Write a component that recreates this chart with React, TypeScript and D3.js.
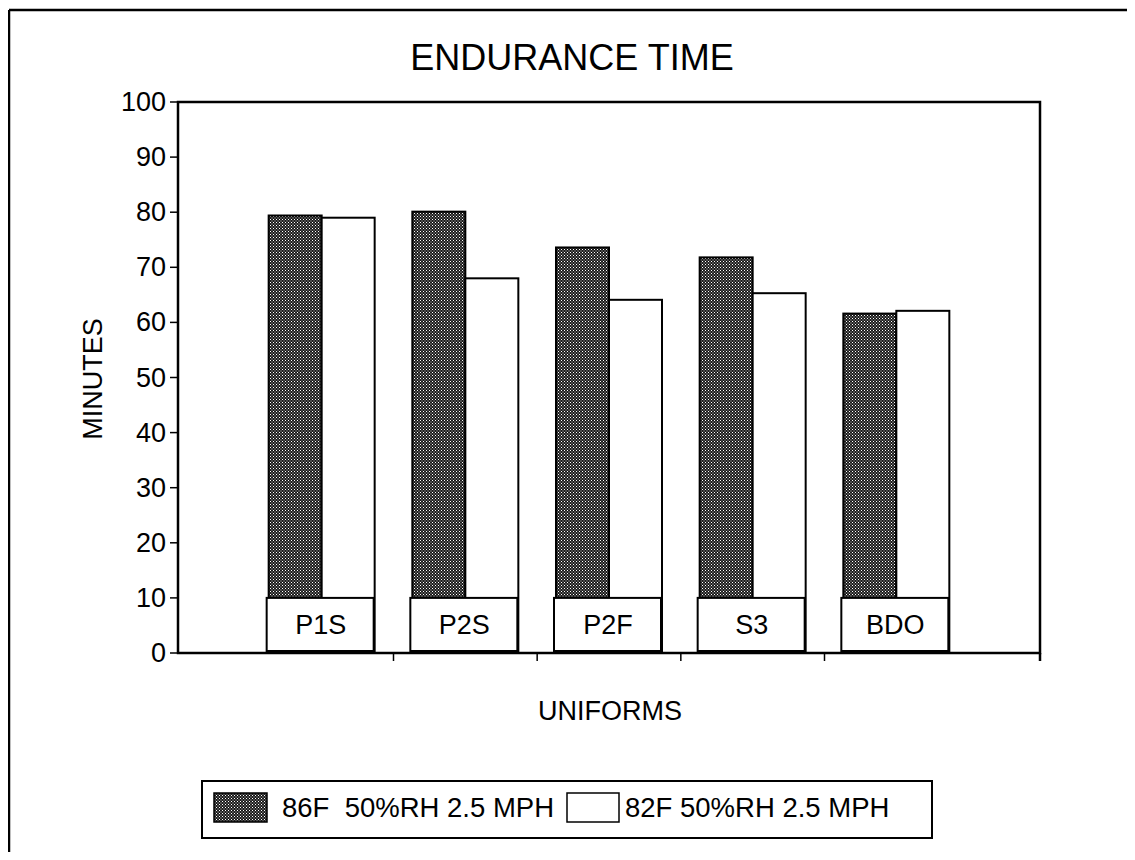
import React from "react";
import * as d3 from "d3";

const categories = ["P1S", "P2S", "P2F", "S3", "BDO"];
const series86 = [79.4, 80.1, 73.6, 71.8, 61.6];
const series82 = [79.0, 68.0, 64.1, 65.3, 62.1];
const seriesNames = ["86F  50%RH 2.5 MPH", "82F 50%RH 2.5 MPH"];
const yTicks = [0, 10, 20, 30, 40, 50, 60, 70, 80, 90, 100];
const labelBoxLevel = 10;

const W = 1135;
const H = 860;
const M = { left: 178, right: 1040, top: 102, bottom: 653 };
const FONT = "'Liberation Sans', Arial, Helvetica, sans-serif";

export default function App() {
  const x = d3
    .scaleBand<string>()
    .domain(categories)
    .range([M.left, M.right])
    .paddingInner(0)
    .paddingOuter(0.5);
  const y = d3.scaleLinear().domain([0, 100]).range([M.bottom, M.top]);
  const step = x.step();
  const barW = 53;
  const boundaries = categories.slice(1).map((c) => (x(c) as number));

  return (
    <div style={{ margin: -8 }}>
      <svg width={W} height={H} style={{ display: "block", background: "#fff" }} fontFamily={FONT}>
        <defs>
          <pattern id="hatch" width="3" height="3" patternUnits="userSpaceOnUse">
            <rect width="3" height="3" fill="#1a1a1a" />
            <rect x="0" y="0" width="1" height="1" fill="#fff" />
            <rect x="1.5" y="1.5" width="1" height="1" fill="#ddd" />
          </pattern>
        </defs>
        {/* outer frame */}
        <line x1={9} y1={10} x2={1133} y2={10} stroke="#000" strokeWidth={2.5} />
        <line x1={9} y1={10} x2={9} y2={H} stroke="#000" strokeWidth={2.5} />
        <line x1={1131} y1={10} x2={1131} y2={H} stroke="#000" strokeWidth={1} />

        <text x={572} y={70} fontSize={36} textAnchor="middle">ENDURANCE TIME</text>

        {/* bars */}
        {categories.map((c, i) => {
          const cx = (x(c) as number) + step / 2;
          return (
            <g key={c}>
              <rect x={cx - barW} y={y(series86[i])} width={barW} height={M.bottom - y(series86[i])}
                fill="url(#hatch)" stroke="#000" strokeWidth={2} />
              <rect x={cx} y={y(series82[i])} width={barW} height={M.bottom - y(series82[i])}
                fill="#fff" stroke="#000" strokeWidth={2} />
              <rect x={cx - barW - 2} y={y(labelBoxLevel)} width={barW * 2 + 1} height={y(0) - y(labelBoxLevel) - 2}
                fill="#fff" stroke="#000" strokeWidth={2} />
              <text x={cx - 1} y={(y(labelBoxLevel) + y(0)) / 2} fontSize={27} textAnchor="middle" dominantBaseline="central">{c}</text>
            </g>
          );
        })}

        {/* plot frame */}
        <rect x={M.left} y={M.top} width={M.right - M.left} height={M.bottom - M.top} fill="none" stroke="#000" strokeWidth={2.5} />

        {/* y ticks */}
        {yTicks.map((t) => (
          <g key={t}>
            <line x1={M.left - 8} x2={M.left} y1={y(t)} y2={y(t)} stroke="#000" strokeWidth={1.5} />
            <text x={166} y={y(t)} fontSize={27} textAnchor="end" dominantBaseline="central">{t}</text>
          </g>
        ))}
        {/* x ticks */}
        {boundaries.map((b, i) => (
          <line key={i} x1={b} x2={b} y1={M.bottom} y2={M.bottom + 8} stroke="#000" strokeWidth={1.5} />
        ))}
        <line x1={M.right} x2={M.right} y1={M.bottom} y2={M.bottom + 8} stroke="#000" strokeWidth={2.5} />

        <text x={610} y={720} fontSize={27} textAnchor="middle">UNIFORMS</text>
        <text transform={`translate(102,379) rotate(-90)`} fontSize={27} textAnchor="middle">MINUTES</text>

        {/* legend */}
        <rect x={202} y={781} width={730} height={57} fill="#fff" stroke="#000" strokeWidth={2} />
        <rect x={214} y={793} width={53} height={29} fill="url(#hatch)" stroke="#000" strokeWidth={1.5} />
        <text x={282} y={817} fontSize={27.5} style={{ whiteSpace: "pre" }}>{seriesNames[0]}</text>
        <rect x={567} y={793} width={52} height={29} fill="#fff" stroke="#000" strokeWidth={1.5} />
        <text x={625} y={817} fontSize={27.5}>{seriesNames[1]}</text>
      </svg>
    </div>
  );
}
